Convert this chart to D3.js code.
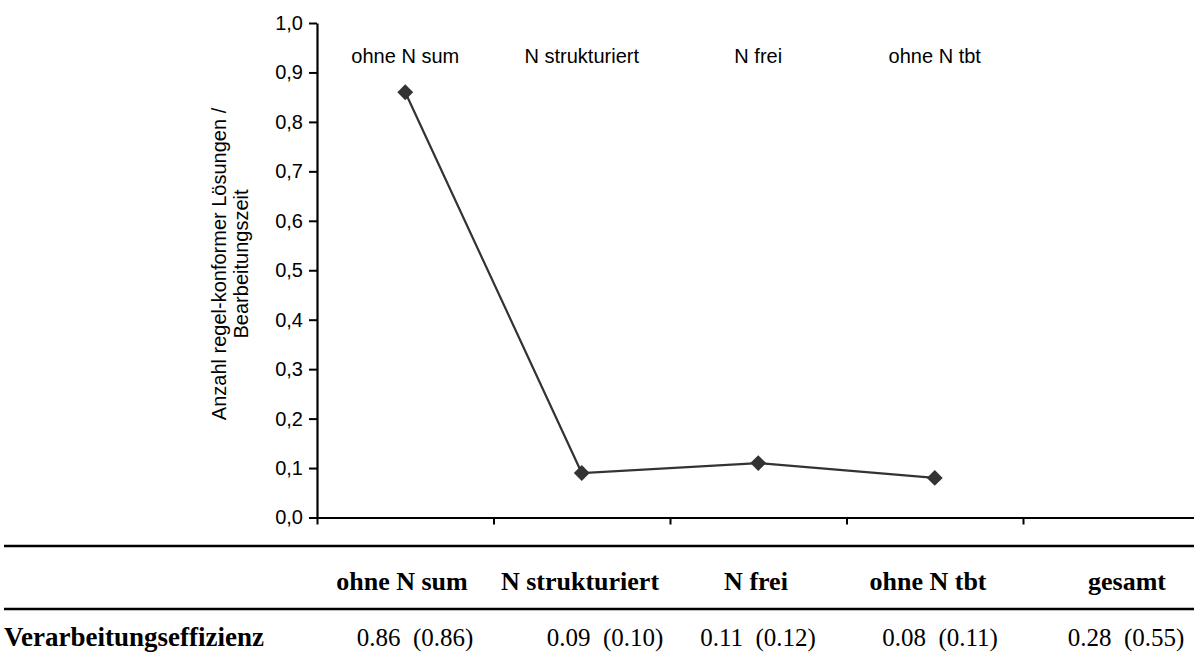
<!DOCTYPE html>
<html>
<head>
<meta charset="utf-8">
<script src="https://cdn.jsdelivr.net/npm/d3@7"></script>
<style>
  html, body { margin: 0; padding: 0; background: #fff; }
  svg { display: block; }
  .sans { font-family: Arial, "Liberation Sans", sans-serif; }
  .serif { font-family: "Times New Roman", "Liberation Serif", serif; }
</style>
</head>
<body>
<svg id="chart" width="1194" height="663"></svg>
<script>
// Conditions shown on the category axis and in the summary table
const categories = ["ohne N sum", "N strukturiert", "N frei", "ohne N tbt"];
const tableColumns = ["ohne N sum", "N strukturiert", "N frei", "ohne N tbt", "gesamt"];
// Verarbeitungseffizienz per condition (first value) and the value in brackets
const effizienz = [0.86, 0.09, 0.11, 0.08, 0.28];
const effizienzKlammer = [0.86, 0.10, 0.12, 0.11, 0.55];
// y-axis tick values
const yTicks = [0, 0.1, 0.2, 0.3, 0.4, 0.5, 0.6, 0.7, 0.8, 0.9, 1.0];
const yTitle = ["Anzahl regel-konformer Lösungen /", "Bearbeitungszeit"];
const rowLabel = "Verarbeitungseffizienz";

const svg = d3.select("#chart");

const left = 317, band = 176.5;
const x = d3.scaleBand().domain(tableColumns).range([left, left + band * tableColumns.length]);
const xIdx = d3.scaleLinear().domain([0, tableColumns.length]).range([left, left + band * tableColumns.length]);
const y = d3.scaleLinear().domain([0, 1]).range([517.5, 23]);
const cx = c => x(c) + x.bandwidth() / 2;

const de = d3.formatLocale({decimal: ",", thousands: ".", grouping: [3], currency: ["", "€"]});
const fmt = de.format(".1f");

// y axis
const gy = svg.append("g")
  .attr("transform", `translate(${left},0)`)
  .call(d3.axisLeft(y).tickValues(yTicks).tickFormat(fmt).tickSize(8).tickSizeOuter(0).tickPadding(6));
gy.select(".domain").attr("stroke", "#000").attr("stroke-width", 2.2);
gy.selectAll(".tick line").attr("stroke", "#000").attr("stroke-width", 2);
gy.selectAll(".tick text").attr("class", "sans").attr("font-size", 20).attr("fill", "#000");

// x axis with ticks between categories
const gx = svg.append("g")
  .attr("transform", `translate(0,${y(0)})`)
  .call(d3.axisBottom(xIdx).tickValues(d3.range(0, tableColumns.length + 1)).tickFormat("").tickSize(7).tickSizeOuter(0));
gx.select(".domain").attr("stroke", "#000").attr("stroke-width", 2.2);
gx.selectAll(".tick line").attr("stroke", "#000").attr("stroke-width", 2);

// y axis title
svg.append("text")
  .attr("class", "sans")
  .attr("font-size", 20)
  .attr("text-anchor", "middle")
  .attr("transform", `translate(226,264) rotate(-90)`)
  .selectAll("tspan").data(yTitle).join("tspan")
  .attr("x", 0)
  .attr("dy", (d, i) => i === 0 ? 0 : 22)
  .text(d => d);

// condition labels above the plot
svg.append("g").selectAll("text").data(categories).join("text")
  .attr("class", "sans")
  .attr("font-size", 20)
  .attr("text-anchor", "middle")
  .attr("x", d => cx(d))
  .attr("y", 63)
  .text(d => d);

// efficiency line with diamond markers
const pts = categories.map((c, i) => [cx(c), y(effizienz[i])]);
svg.append("path")
  .attr("d", d3.line()(pts))
  .attr("fill", "none")
  .attr("stroke", "#333")
  .attr("stroke-width", 2.2);
svg.append("g").selectAll("path").data(pts).join("path")
  .attr("transform", d => `translate(${d[0]},${d[1]})`)
  .attr("d", d3.symbol(d3.symbolDiamond2, 160))
  .attr("fill", "#333");

// summary table
const rule = (yy) => svg.append("line")
  .attr("x1", 4).attr("x2", 1194).attr("y1", yy).attr("y2", yy)
  .attr("stroke", "#000").attr("stroke-width", 2.5);
rule(546);
rule(609);

const headerX = [402, 580, 756, 928, 1127];
const valueX = [415, 605, 758, 940, 1126];

svg.append("g").selectAll("text").data(tableColumns).join("text")
  .attr("class", "serif")
  .attr("font-size", 26)
  .attr("font-weight", "bold")
  .attr("text-anchor", "middle")
  .attr("x", (d, i) => headerX[i])
  .attr("y", 590)
  .text(d => d);

svg.append("text")
  .attr("class", "serif")
  .attr("font-size", 27)
  .attr("font-weight", "bold")
  .attr("x", 4)
  .attr("y", 646)
  .text(rowLabel);

svg.append("g").selectAll("text").data(effizienz).join("text")
  .attr("class", "serif")
  .attr("font-size", 25)
  .attr("text-anchor", "middle")
  .attr("xml:space", "preserve")
  .style("white-space", "pre")
  .attr("x", (d, i) => valueX[i])
  .attr("y", 646)
  .text((d, i) => `${d.toFixed(2)}  (${effizienzKlammer[i].toFixed(2)})`);
</script>
</body>
</html>
